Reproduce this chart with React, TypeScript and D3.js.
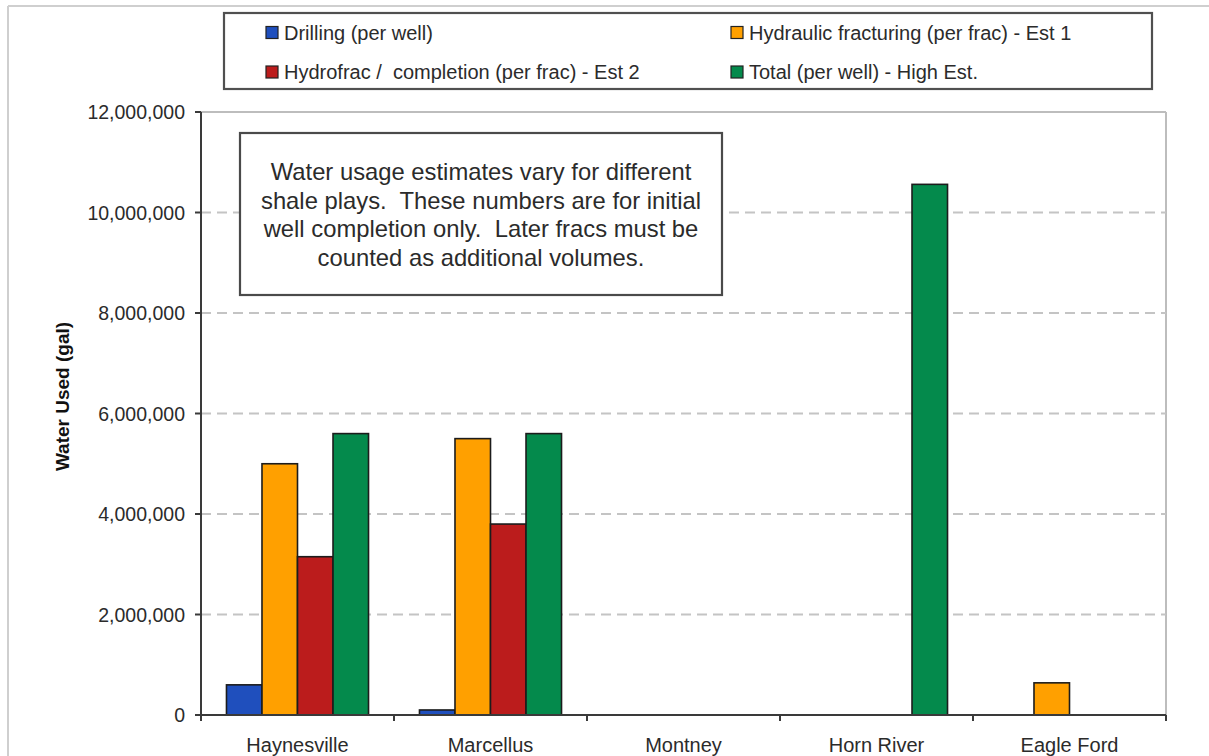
import React from "react";
import * as d3 from "d3";

// Shale plays and water usage estimates (gallons)
const categories = ["Haynesville", "Marcellus", "Montney", "Horn River", "Eagle Ford"];
const drilling: (number | null)[] = [600000, 100000, null, null, null];
const hydraulicFrac: (number | null)[] = [5000000, 5500000, null, null, 640000];
const hydrofracCompletion: (number | null)[] = [3150000, 3800000, null, null, null];
const totalHigh: (number | null)[] = [5600000, 5600000, null, 10560000, null];

const seriesNames = [
  "Drilling (per well)",
  "Hydraulic fracturing (per frac) - Est 1",
  "Hydrofrac /  completion (per frac) - Est 2",
  "Total (per well) - High Est.",
];
const seriesColors = ["#1f4fbd", "#ffa000", "#bb1c1c", "#048a4c"];
const yTicks = [0, 2000000, 4000000, 6000000, 8000000, 10000000, 12000000];
const noteLines = [
  "Water usage estimates vary for different",
  "shale plays.  These numbers are for initial",
  "well completion only.  Later fracs must be",
  "counted as additional volumes.",
];

const W = 1209;
const H = 756;
const FONT = "'Liberation Sans', Arial, Helvetica, sans-serif";
const TEXT = "#2b2b2b";

export default function App() {
  const left = 201, right = 1166, top = 112, bottom = 715;
  const series = [drilling, hydraulicFrac, hydrofracCompletion, totalHigh];

  const x = d3.scaleBand<string>().domain(categories).range([left, right]).paddingInner(0).paddingOuter(0);
  const bw = x.bandwidth();
  const xs = d3
    .scaleBand<number>()
    .domain(d3.range(series.length))
    .range([bw * 0.132, bw * 0.868])
    .padding(0);
  const y = d3.scaleLinear().domain([0, 12000000]).range([bottom, top]);
  const fmt = d3.format(",");

  const boundaries = categories.map((c) => x(c)!).concat([right]);

  // legend layout: two columns, two rows
  const legendItems = [
    { i: 0, col: 0, row: 0 },
    { i: 1, col: 1, row: 0 },
    { i: 2, col: 0, row: 1 },
    { i: 3, col: 1, row: 1 },
  ];
  const colX = [266, 731];
  const rowY = [32.5, 72];

  return (
    <svg
      width={W}
      height={H}
      style={{ position: "absolute", left: 0, top: 0, background: "#fff" }}
      fontFamily={FONT}
    >
      <rect x={0} y={0} width={W} height={H} fill="#fff" />
      {/* outer frame */}
      <line x1={8} y1={6} x2={W} y2={6} stroke="#cfcfcf" strokeWidth={2} />
      <line x1={8} y1={6} x2={8} y2={H} stroke="#cfcfcf" strokeWidth={2} />

      {/* legend */}
      <rect x={224} y={13} width={928} height={76} fill="#fff" stroke="#505050" strokeWidth={2.2} />
      {legendItems.map(({ i, col, row }) => (
        <g key={i}>
          <rect
            x={colX[col]}
            y={rowY[row] - 6}
            width={12}
            height={12}
            fill={seriesColors[i]}
            stroke="#222"
            strokeWidth={1.2}
          />
          <text
            x={colX[col] + 18}
            y={rowY[row]}
            dy="0.35em"
            fontSize={20}
            fill={TEXT}
            style={{ whiteSpace: "pre" }}
          >
            {seriesNames[i]}
          </text>
        </g>
      ))}

      {/* plot frame */}
      <line x1={left} y1={top} x2={right} y2={top} stroke="#bdbdbd" strokeWidth={2} />
      <line x1={right} y1={top} x2={right} y2={bottom} stroke="#bdbdbd" strokeWidth={2} />

      {/* gridlines */}
      {yTicks
        .filter((t) => t > 0 && t < 12000000)
        .map((t) => (
          <line
            key={t}
            x1={left}
            x2={right}
            y1={y(t)}
            y2={y(t)}
            stroke="#c4c4c4"
            strokeWidth={2}
            strokeDasharray="10 6"
          />
        ))}

      {/* note box */}
      <rect x={240} y={133} width={482} height={162} fill="#fff" stroke="#4a4a4a" strokeWidth={2.2} />
      {noteLines.map((ln, k) => (
        <text
          key={k}
          x={481}
          y={172 + k * 28.4}
          dy="0.35em"
          textAnchor="middle"
          fontSize={23.8}
          fill={TEXT}
          style={{ whiteSpace: "pre" }}
        >
          {ln}
        </text>
      ))}

      {/* bars */}
      {series.map((vals, si) =>
        vals.map((v, ci) =>
          v == null ? null : (
            <rect
              key={`${si}-${ci}`}
              x={x(categories[ci])! + xs(si)!}
              y={y(v)}
              width={xs.bandwidth()}
              height={y(0) - y(v)}
              fill={seriesColors[si]}
              stroke="#1c1c1c"
              strokeWidth={1.6}
            />
          )
        )
      )}

      {/* y axis */}
      <line x1={left} y1={top} x2={left} y2={bottom} stroke="#3a3a3a" strokeWidth={2} />
      {yTicks.map((t) => (
        <g key={t}>
          <line x1={left - 6} x2={left} y1={y(t)} y2={y(t)} stroke="#3a3a3a" strokeWidth={2} />
          <text x={185} y={y(t)} dy="0.36em" textAnchor="end" fontSize={19.5} fill={TEXT}>
            {fmt(t)}
          </text>
        </g>
      ))}
      <text
        transform={`translate(62,${(top + bottom) / 2 - 17}) rotate(-90)`}
        textAnchor="middle"
        dy="0.35em"
        fontSize={19}
        fontWeight="bold"
        fill="#111"
      >
        Water Used (gal)
      </text>

      {/* x axis */}
      <line x1={left - 6} x2={right} y1={bottom} y2={bottom} stroke="#3a3a3a" strokeWidth={2} />
      {boundaries.map((b, k) => (
        <line key={k} x1={b} x2={b} y1={bottom} y2={bottom + 6} stroke="#3a3a3a" strokeWidth={2} />
      ))}
      {categories.map((c) => (
        <text
          key={c}
          x={x(c)! + bw / 2}
          y={752}
          textAnchor="middle"
          fontSize={20}
          fill={TEXT}
        >
          {c}
        </text>
      ))}
    </svg>
  );
}
